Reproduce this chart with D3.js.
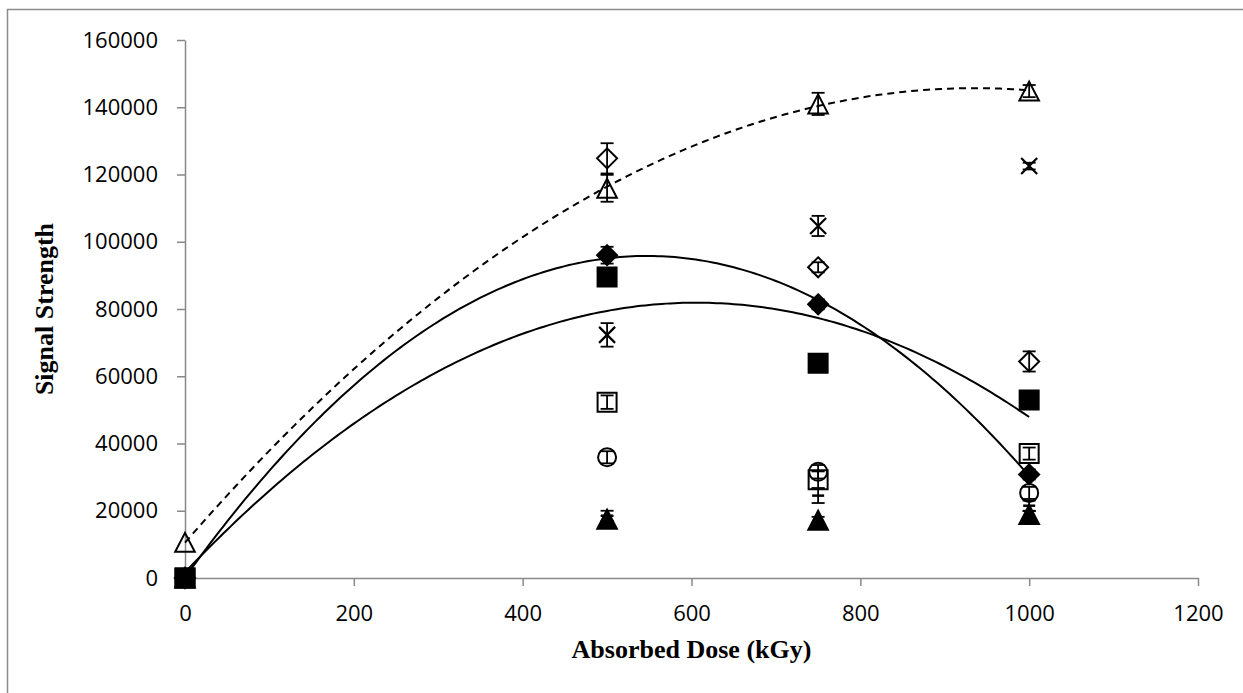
<!DOCTYPE html>
<html>
<head>
<meta charset="utf-8">
<script src="https://cdn.jsdelivr.net/npm/d3@7"></script>
<style>
  html, body { margin: 0; padding: 0; background: #fff; }
  svg { display: block; }
</style>
</head>
<body>
<svg id="chart" width="1243" height="693"></svg>
<script>
// ---------- DATA ----------
const doses = [0, 500, 750, 1000];
const xTicks = [0, 200, 400, 600, 800, 1000, 1200];
const yTicks = [0, 20000, 40000, 60000, 80000, 100000, 120000, 140000, 160000];

const openTriangleValues   = [10600, 115900, 141000, 144800];
const openTriangleErrors   = [0, 4000, 3300, 1800];
const openDiamondValues    = [0, 124800, 92400, 64400];
const openDiamondErrors    = [0, 4500, 1500, 3000];
const filledDiamondValues  = [0, 96000, 81400, 30800];
const filledDiamondErrors  = [0, 2500, 1500, 1500];
const filledSquareValues   = [0, 89500, 63900, 52900];
const filledSquareErrors   = [0, 1000, 1000, 1000];
const crossValues          = [0, 72300, 104700, 122500];
const crossErrors          = [0, 3500, 3000, 1000];
const openSquareValues     = [0, 52300, 29200, 37000];
const openSquareErrors     = [0, 2000, 2500, 1800];
const openCircleValues     = [0, 35900, 31600, 25300];
const openCircleErrors     = [0, 1800, 2000, 1800];
const dashValues           = [0, 18500, 24500, 21500];
const dashErrors           = [0, 1500, 2200, 1500];
const filledTriangleValues = [0, 17500, 17200, 18900];
const filledTriangleErrors = [0, 1000, 1000, 1000];

// series table (drawing order; marker kind is style)
const series = [
  { values: openDiamondValues,    errors: openDiamondErrors,    marker: "diamond",  filled: false },
  { values: crossValues,          errors: crossErrors,          marker: "x",        filled: false },
  { values: openSquareValues,     errors: openSquareErrors,     marker: "square",   filled: false },
  { values: openCircleValues,     errors: openCircleErrors,     marker: "circle",   filled: false },
  { values: dashValues,           errors: dashErrors,           marker: "dash",     filled: false },
  { values: filledTriangleValues, errors: filledTriangleErrors, marker: "triangle", filled: true },
  { values: openTriangleValues,   errors: openTriangleErrors,   marker: "triangle", filled: false, trend: "dashed" },
  { values: filledDiamondValues,  errors: filledDiamondErrors,  marker: "diamond",  filled: true,  trend: "solid" },
  { values: filledSquareValues,   errors: filledSquareErrors,   marker: "square",   filled: true,  trend: "solid" }
];

// ---------- LAYOUT ----------
const svg = d3.select("#chart");
const x = d3.scaleLinear().domain([0, 1200]).range([185, 1198]);
const y = d3.scaleLinear().domain([0, 160000]).range([578, 40]);
const axisColor = "#898989";
const tickFont = "'Open Sans', 'Liberation Sans', sans-serif";

// outer chart border (bottom/right fall outside the picture)
svg.append("path")
  .attr("d", "M7.5,700 L7.5,9.5 L1260,9.5")
  .attr("fill", "none").attr("stroke", "#8c8c8c").attr("stroke-width", 1.5);

// axes
const yAxis = d3.axisLeft(y).tickValues(yTicks).tickSize(8).tickSizeOuter(0).tickPadding(19)
  .tickFormat(d3.format("d"));
const xAxis = d3.axisBottom(x).tickValues(xTicks).tickSize(8).tickSizeOuter(0).tickPadding(19)
  .tickFormat(d3.format("d"));

const gy = svg.append("g").attr("transform", `translate(${x(0)},0)`).call(yAxis);
const gx = svg.append("g").attr("transform", `translate(0,${y(0)})`).call(xAxis);
[gx, gy].forEach(g => {
  g.select(".domain").attr("stroke", axisColor).attr("stroke-width", 1.5);
  g.selectAll(".tick line").attr("stroke", axisColor).attr("stroke-width", 1.5);
  g.selectAll(".tick text").attr("fill", "#000").style("font-family", tickFont).style("font-size", "22px");
});

// axis titles
svg.append("text")
  .attr("x", (x(0) + x(1200)) / 2).attr("y", 658)
  .attr("text-anchor", "middle")
  .style("font-family", "'Liberation Serif', 'Times New Roman', serif")
  .style("font-weight", "bold").style("font-size", "26px")
  .text("Absorbed Dose (kGy)");
svg.append("text")
  .attr("transform", `translate(53,${(y(0) + y(160000)) / 2}) rotate(-90)`)
  .attr("text-anchor", "middle")
  .style("font-family", "'Liberation Serif', 'Times New Roman', serif")
  .style("font-weight", "bold").style("font-size", "26px")
  .text("Signal Strength");

// ---------- TRENDLINES (least-squares 2nd order polynomial) ----------
function polyFit2(xs, ys) {
  const n = xs.length;
  let s = [0, 0, 0, 0, 0], t = [0, 0, 0];
  for (let i = 0; i < n; i++) {
    const xv = xs[i], yv = ys[i];
    for (let k = 0; k < 5; k++) s[k] += Math.pow(xv, k);
    for (let k = 0; k < 3; k++) t[k] += yv * Math.pow(xv, k);
  }
  const M = [[s[0], s[1], s[2], t[0]], [s[1], s[2], s[3], t[1]], [s[2], s[3], s[4], t[2]]];
  for (let c = 0; c < 3; c++) {
    for (let r = c + 1; r < 3; r++) {
      const f = M[r][c] / M[c][c];
      for (let k = c; k < 4; k++) M[r][k] -= f * M[c][k];
    }
  }
  const coef = [0, 0, 0];
  for (let r = 2; r >= 0; r--) {
    let v = M[r][3];
    for (let k = r + 1; k < 3; k++) v -= M[r][k] * coef[k];
    coef[r] = v / M[r][r];
  }
  return xv => coef[0] + coef[1] * xv + coef[2] * xv * xv;
}

const line = d3.line().x(d => x(d[0])).y(d => y(d[1])).curve(d3.curveLinear);
const gTrend = svg.append("g");
series.filter(s => s.trend).forEach(s => {
  const f = polyFit2(doses.map(d => d / 1000), s.values);
  const pts = d3.range(0, 1000.01, 5).map(xv => [xv, f(xv / 1000)]);
  gTrend.append("path")
    .attr("d", line(pts))
    .attr("fill", "none").attr("stroke", "#000").attr("stroke-width", 2)
    .attr("stroke-dasharray", s.trend === "dashed" ? "7,5" : null);
});

// ---------- MARKERS + ERROR BARS ----------
function markerPath(kind) {
  switch (kind) {
    case "diamond": return "M0,-10 L10,0 L0,10 L-10,0 Z";
    case "square": return "M-9.5,-9.5 L9.5,-9.5 L9.5,9.5 L-9.5,9.5 Z";
    case "triangle": return "M0,-9.5 L9.8,9.5 L-9.8,9.5 Z";
    case "x": return "M-8,-8 L8,8 M8,-8 L-8,8";
    case "dash": return "M-6,0 L6,0";
    default: return null;
  }
}

const gPts = svg.append("g");
series.forEach(s => {
  const g = gPts.append("g");
  doses.forEach((d, i) => {
    const cx = x(d), cy = y(s.values[i]);
    const m = g.append("g").attr("transform", `translate(${cx},${cy})`);
    if (s.marker === "circle") {
      m.append("circle").attr("r", 9)
        .attr("fill", s.filled ? "#000" : "none").attr("stroke", "#000").attr("stroke-width", 2);
    } else {
      m.append("path").attr("d", markerPath(s.marker))
        .attr("fill", s.filled ? "#000" : "none")
        .attr("stroke", "#000")
        .attr("stroke-width", s.marker === "x" ? 2.2 : (s.marker === "dash" ? 2.5 : 2))
        .attr("stroke-linejoin", "miter");
    }
    const e = s.errors[i];
    if (e > 0) {
      const yt = y(s.values[i] + e), yb = y(s.values[i] - e);
      const eg = g.append("g").attr("stroke", "#000").attr("stroke-width", 1.8);
      eg.append("line").attr("x1", cx).attr("x2", cx).attr("y1", yt).attr("y2", yb);
      eg.append("line").attr("x1", cx - 6.5).attr("x2", cx + 6.5).attr("y1", yt).attr("y2", yt);
      eg.append("line").attr("x1", cx - 6.5).attr("x2", cx + 6.5).attr("y1", yb).attr("y2", yb);
    }
  });
});
</script>
</body>
</html>
